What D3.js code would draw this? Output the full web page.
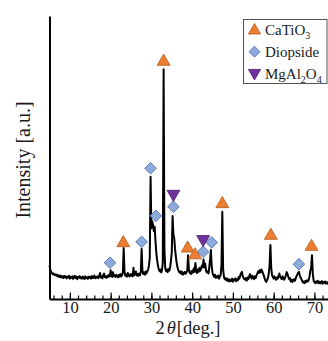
<!DOCTYPE html>
<html>
<head>
<meta charset="utf-8">
<script src="https://cdn.jsdelivr.net/npm/d3@7/dist/d3.min.js"></script>
<style>
  html, body { margin: 0; padding: 0; background: #ffffff; }
  svg { display: block; }
  text { font-family: "Liberation Serif", "Times New Roman", serif; fill: #1a1a1a; }
</style>
</head>
<body>
<svg id="chart" width="328" height="341"></svg>
<script>
// XRD pattern sampled every 0.2 deg from 5 to 75 deg (2θ), arbitrary intensity units
const twoThetaStart = 5;
const twoThetaStep = 0.2;
const intensity = [
  118, 104, 96, 92, 88, 90, 85, 87, 83, 86,      // 5.0 - 6.8
  80, 84, 78, 83, 76, 81, 79, 74, 82, 77,        // 7.0 - 8.8
  80, 73, 79, 76, 82, 72, 78, 75, 80, 71,        // 9.0 - 10.8
  77, 82, 74, 79, 70, 78, 75, 81, 73, 77,        // 11.0 - 12.8
  72, 79, 76, 70, 80, 74, 77, 71, 79, 75,        // 13.0 - 14.8
  78, 72, 81, 74, 76, 83, 73, 78, 75, 80,        // 15.0 - 16.8
  74, 82, 92, 76, 79, 73, 84, 90, 77, 80,        // 17.0 - 18.8
  75, 82, 78, 86, 80, 102, 82, 78, 95, 80,       // 19.0 - 20.8
  84, 78, 86, 80, 77, 85, 79, 88, 80, 84,        // 21.0 - 22.8
  95, 180, 96, 82, 86, 79, 92, 84, 80, 87,       // 23.0 - 24.8
  82, 88, 80, 110, 84, 90, 97, 83, 88, 82,       // 25.0 - 26.8
  90, 84, 95, 177, 100, 88, 94, 86, 97, 90,      // 27.0 - 28.8
  98, 104, 118, 145, 432, 250, 275, 262, 240, 255, // 29.0 - 30.8
  205, 165, 138, 118, 106, 98, 104, 94, 101, 128,  // 31.0 - 32.8
  812, 175, 110, 98, 104, 95, 106, 100, 112, 135,  // 33.0 - 34.8
  165, 293, 228, 215, 178, 150, 128, 112, 102, 96, // 35.0 - 36.8
  92, 98, 88, 95, 86, 92, 96, 89, 94, 100,       // 37.0 - 38.8
  155, 105, 92, 97, 88, 100, 94, 108, 96, 127,   // 39.0 - 40.8
  98, 92, 104, 96, 110, 100, 108, 118, 112, 140, // 41.0 - 42.8
  112, 125, 100, 94, 98, 90, 112, 140, 173, 115, // 43.0 - 44.8
  92, 84, 78, 86, 74, 80, 76, 83, 72, 79,        // 45.0 - 46.8
  85, 120, 308, 105, 78, 70, 74, 66, 72, 63,     // 47.0 - 48.8
  70, 62, 68, 64, 72, 61, 69, 66, 73, 63,        // 49.0 - 50.8
  70, 66, 78, 72, 84, 90, 96, 82, 75, 70,        // 51.0 - 52.8
  68, 74, 65, 76, 70, 80, 88, 78, 72, 82,        // 53.0 - 54.8
  76, 70, 80, 74, 84, 90, 98, 92, 102, 94,       // 55.0 - 56.8
  104, 98, 90, 82, 72, 64, 60, 68, 75, 90,       // 57.0 - 58.8
  120, 191, 110, 84, 78, 72, 80, 74, 68, 76,     // 59.0 - 60.8
  72, 82, 90, 78, 74, 70, 80, 73, 68, 76,        // 61.0 - 62.8
  84, 95, 88, 78, 70, 74, 62, 68, 60, 66,        // 63.0 - 64.8
  70, 64, 72, 80, 86, 92, 96, 84, 76, 70,        // 65.0 - 66.8
  64, 58, 62, 56, 64, 60, 66, 62, 68, 80,        // 67.0 - 68.8
  100, 110, 155, 90, 66, 60, 56, 62, 58, 64,     // 69.0 - 70.8
  56, 61, 55, 59, 63, 54, 60, 57, 62, 55,        // 71.0 - 72.8
  59, 54, 60, 56, 61, 53, 58, 55, 60, 56,        // 73.0 - 74.8
  58                                             // 75.0
];

// Phase markers: 2θ position and the intensity level where each symbol sits
const caTiO3Theta = [33.0, 23.1, 38.9, 40.7, 47.4, 59.3, 69.3];
const caTiO3Level = [839, 198, 179, 155, 336, 224, 185];
const diopsideTheta = [19.85, 27.6, 29.8, 31.1, 35.4, 42.7, 44.8, 66.2];
const diopsideLevel = [128, 202, 462, 294, 326, 167, 200, 123];
const spinelTheta = [35.4, 42.7];
const spinelLevel = [371, 211];

const majorTicks = [10, 20, 30, 40, 50, 60, 70];
const minorTicks = d3.range(6, 75, 2);

const legendItems = [
  { key: "tri", parts: [["CaTiO", false], ["3", true]] },
  { key: "dia", parts: [["Diopside", false]] },
  { key: "inv", parts: [["MgAl", false], ["2", true], ["O", false], ["4", true]] }
];

const styles = {
  tri: { fill: "#ED7D31", stroke: "#B5591C" },
  dia: { fill: "#8EA9DB", stroke: "#4F6FA8" },
  inv: { fill: "#7030A0", stroke: "#4A1D6E" }
};

const svg = d3.select("#chart");
const plotLeft = 49.5, plotBottom = 299, plotTop = 16;

const x = d3.scaleLinear().domain([5, 75]).range([plotLeft, plotLeft + 70 * 4.0757]);
const y = d3.scaleLinear().domain([0, 1000]).range([plotBottom, plotTop]);

const series = intensity.map((v, i) => [twoThetaStart + i * twoThetaStep, v]);

// diffraction trace
svg.append("path")
  .datum(series)
  .attr("fill", "none")
  .attr("stroke", "#000")
  .attr("stroke-width", 2)
  .attr("stroke-linejoin", "round")
  .attr("d", d3.line().x(d => x(d[0])).y(d => y(d[1])));

// bottom axis: minor ticks every 2°, major every 10°, all pointing inward
const minorAxis = d3.axisBottom(x).tickValues(minorTicks).tickSize(-3.5).tickFormat("");
const majorAxis = d3.axisBottom(x).tickValues(majorTicks).tickSize(-6.5).tickSizeOuter(0).tickPadding(2.5).tickFormat(d3.format("d"));

const gMinor = svg.append("g").attr("transform", `translate(0,${plotBottom})`).call(minorAxis);
gMinor.select(".domain").remove();
gMinor.selectAll("line").attr("stroke", "#000").attr("stroke-width", 1.2);

const gMajor = svg.append("g").attr("transform", `translate(0,${plotBottom})`).call(majorAxis);
gMajor.select(".domain").attr("stroke", "#000").attr("stroke-width", 2);
gMajor.selectAll("line").attr("stroke", "#000").attr("stroke-width", 1.2);
gMajor.selectAll("text")
  .attr("font-size", 16.5)
  .attr("fill", "#1a1a1a");

// left axis line, no ticks
const yAxis = d3.axisLeft(y).tickValues([]).tickSizeOuter(0);
const gy = svg.append("g").attr("transform", `translate(${plotLeft},0)`).call(yAxis);
gy.select(".domain").attr("stroke", "#000").attr("stroke-width", 2);

// axis titles
svg.append("text")
  .attr("transform", `translate(30,160) rotate(-90)`)
  .attr("text-anchor", "middle")
  .attr("font-size", 20)
  .text("Intensity [a.u.]");

const xt = svg.append("text")
  .attr("x", 188).attr("y", 334)
  .attr("text-anchor", "middle")
  .attr("font-size", 18.5);
xt.append("tspan").text("2");
xt.append("tspan").attr("dx", 2).attr("font-style", "italic").text("θ");
xt.append("tspan").attr("dx", 1).text("[deg.]");

// marker shapes
function markerPath(key, size) {
  if (key === "dia") return d3.symbol(d3.symbolSquare, size)();
  return d3.symbol(d3.symbolTriangle, size)();
}
function markerTransform(key, px, py) {
  if (key === "dia") return `translate(${px},${py}) rotate(45)`;
  if (key === "inv") return `translate(${px},${py}) rotate(180)`;
  return `translate(${px},${py})`;
}

function drawMarkers(key, thetas, levels, size) {
  const data = thetas.map((t, i) => [t, levels[i]]);
  svg.append("g").selectAll("path")
    .data(data)
    .join("path")
    .attr("d", markerPath(key, size))
    .attr("transform", d => markerTransform(key, x(d[0]), y(d[1])))
    .attr("fill", styles[key].fill)
    .attr("stroke", styles[key].stroke)
    .attr("stroke-width", 0.8);
}

drawMarkers("tri", caTiO3Theta, caTiO3Level, 72);
drawMarkers("dia", diopsideTheta, diopsideLevel, 68);
drawMarkers("inv", spinelTheta, spinelLevel, 72);

// legend
const legend = svg.append("g");
legend.append("rect")
  .attr("x", 243.5).attr("y", 19.5)
  .attr("width", 83.5).attr("height", 64)
  .attr("fill", "#fff")
  .attr("stroke", "#555")
  .attr("stroke-width", 1);

legendItems.forEach((item, i) => {
  const cy = 29.5 + i * 22.2;
  legend.append("path")
    .attr("d", markerPath(item.key, item.key === "dia" ? 60 : 64))
    .attr("transform", markerTransform(item.key, 254.5, cy + (item.key === "tri" ? 1 : item.key === "inv" ? -1 : 0)))
    .attr("fill", styles[item.key].fill)
    .attr("stroke", styles[item.key].stroke)
    .attr("stroke-width", 0.8);
  const t = legend.append("text")
    .attr("x", 265).attr("y", cy + 5)
    .attr("font-size", 15);
  item.parts.forEach(([s, sub], j) => {
    const ts = t.append("tspan").text(s);
    if (sub) ts.attr("font-size", 10).attr("dy", 4);
    else if (j > 0 && item.parts[j - 1][1]) ts.attr("dy", -4);
  });
});
</script>
</body>
</html>
